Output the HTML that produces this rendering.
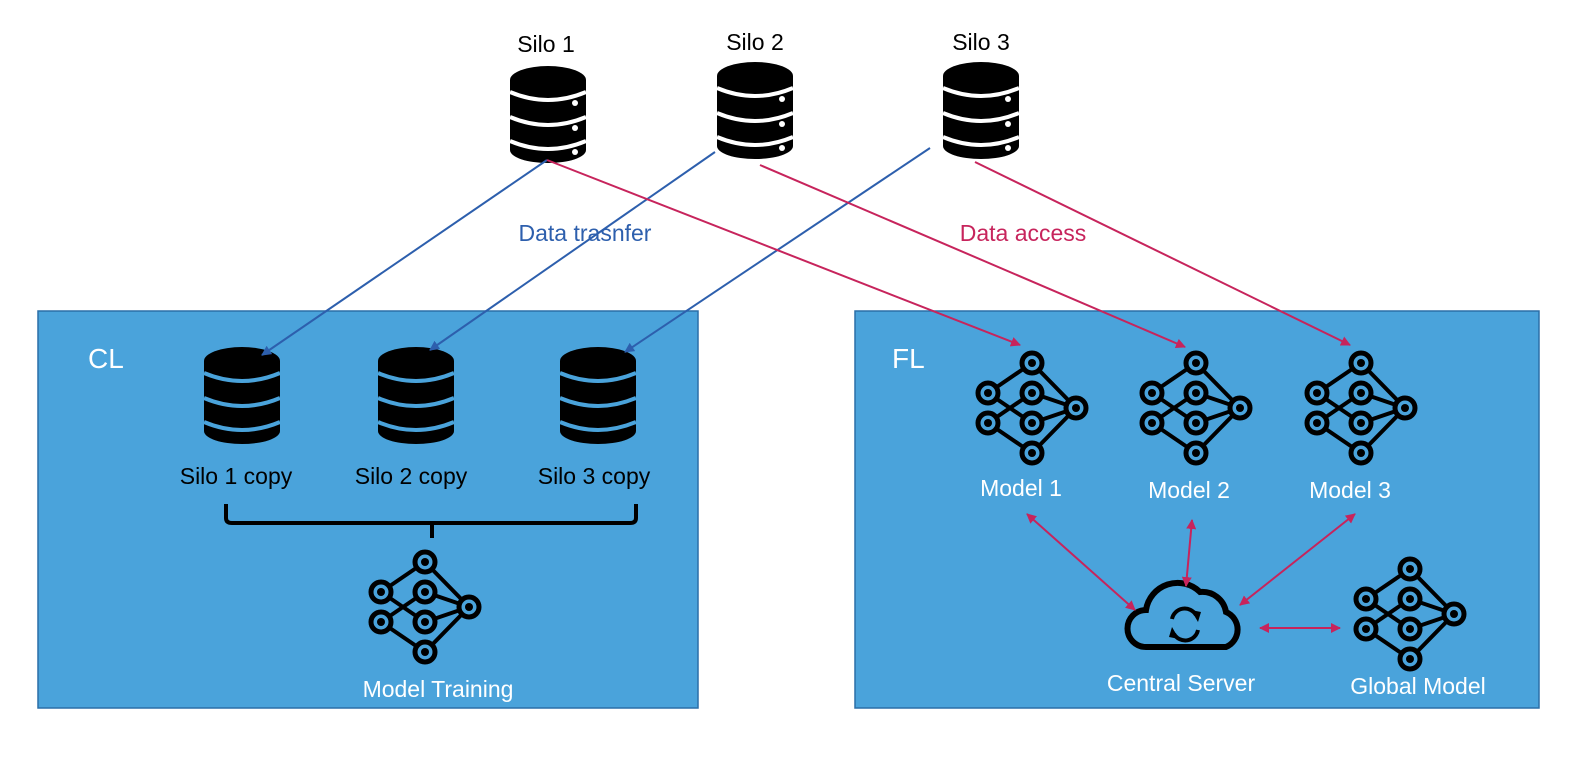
<!DOCTYPE html>
<html><head><meta charset="utf-8"><style>
html,body{margin:0;padding:0;background:#fff;}
svg{display:block;font-family:"Liberation Sans",sans-serif;}
</style></head><body>
<svg width="1588" height="764" viewBox="0 0 1588 764" xmlns="http://www.w3.org/2000/svg">
<defs>
<symbol id="db" viewBox="0 0 76 97" overflow="visible">
<path d="M0 14 A38 14 0 0 1 76 14 L76 84 A38 13 0 0 1 0 84 Z" fill="#000"/>
</symbol>
<g id="nn" fill="none" stroke="#000">
<g stroke-width="4">
<line x1="0" y1="-45" x2="-44" y2="-15"/><line x1="0" y1="-45" x2="44" y2="0"/>
<line x1="-44" y1="-15" x2="0" y2="15"/><line x1="-44" y1="15" x2="0" y2="-15"/>
<line x1="0" y1="-15" x2="44" y2="0"/><line x1="0" y1="15" x2="44" y2="0"/>
<line x1="-44" y1="15" x2="0" y2="45"/><line x1="0" y1="45" x2="44" y2="0"/>
</g>
<g stroke-width="5" fill="#4aa3db">
<circle cx="0" cy="-45" r="10"/><circle cx="-44" cy="-15" r="10"/><circle cx="-44" cy="15" r="10"/>
<circle cx="0" cy="-15" r="10"/><circle cx="0" cy="15" r="10"/><circle cx="0" cy="45" r="10"/><circle cx="44" cy="0" r="10"/>
</g>
<g fill="#000" stroke="none">
<circle cx="0" cy="-45" r="4"/><circle cx="-44" cy="-15" r="4"/><circle cx="-44" cy="15" r="4"/>
<circle cx="0" cy="-15" r="4"/><circle cx="0" cy="15" r="4"/><circle cx="0" cy="45" r="4"/><circle cx="44" cy="0" r="4"/>
</g>
</g>
<marker id="ab" viewBox="0 0 10 10" refX="9" refY="5" markerWidth="5" markerHeight="5" orient="auto-start-reverse"><path d="M0 0 L10 5 L0 10 Z" fill="#2d5fad"/></marker>
<marker id="ar" viewBox="0 0 10 10" refX="9" refY="5" markerWidth="5" markerHeight="5" orient="auto-start-reverse"><path d="M0 0 L10 5 L0 10 Z" fill="#c7245c"/></marker>
</defs>

<rect x="38" y="311" width="660" height="397" fill="#4aa3db" stroke="#2a6fa8" stroke-width="1.5"/>
<rect x="855" y="311" width="684" height="397" fill="#4aa3db" stroke="#2a6fa8" stroke-width="1.5"/>

<use href="#db" x="510" y="66" width="76" height="97"/>
<use href="#db" x="717" y="62" width="76" height="97"/>
<use href="#db" x="943" y="62" width="76" height="97"/>
<g stroke="#fff" stroke-width="4" fill="none">
<path d="M510 92 Q548 108 586 92"/><path d="M510 117 Q548 133 586 117"/><path d="M510 141 Q548 157 586 141"/>
<path d="M717 88 Q755 104 793 88"/><path d="M717 113 Q755 129 793 113"/><path d="M717 137 Q755 153 793 137"/>
<path d="M943 88 Q981 104 1019 88"/><path d="M943 113 Q981 129 1019 113"/><path d="M943 137 Q981 153 1019 137"/>
</g>
<g fill="#fff">
<circle cx="575" cy="103" r="3"/><circle cx="575" cy="128" r="3"/><circle cx="575" cy="152" r="3"/>
<circle cx="782" cy="99" r="3"/><circle cx="782" cy="124" r="3"/><circle cx="782" cy="148" r="3"/>
<circle cx="1008" cy="99" r="3"/><circle cx="1008" cy="124" r="3"/><circle cx="1008" cy="148" r="3"/>
</g>
<g font-size="23" fill="#000" text-anchor="middle">
<text x="546" y="52">Silo 1</text><text x="755" y="50">Silo 2</text><text x="981" y="50">Silo 3</text>
</g>

<use href="#db" x="204" y="346" width="76" height="99"/>
<use href="#db" x="378" y="346" width="76" height="99"/>
<use href="#db" x="560" y="346" width="76" height="99"/>
<g stroke="#4aa3db" stroke-width="4" fill="none">
<path d="M204 373 Q242 389 280 373"/><path d="M204 398 Q242 414 280 398"/><path d="M204 422 Q242 438 280 422"/>
<path d="M378 373 Q416 389 454 373"/><path d="M378 398 Q416 414 454 398"/><path d="M378 422 Q416 438 454 422"/>
<path d="M560 373 Q598 389 636 373"/><path d="M560 398 Q598 414 636 398"/><path d="M560 422 Q598 438 636 422"/>
</g>
<g font-size="23" fill="#000" text-anchor="middle">
<text x="236" y="484">Silo 1 copy</text><text x="411" y="484">Silo 2 copy</text><text x="594" y="484">Silo 3 copy</text>
</g>
<path d="M226 504 L226 518 Q226 523 232 523 L630 523 Q636 523 636 518 L636 504 M432 523 L432 538" fill="none" stroke="#000" stroke-width="4"/>
<use href="#nn" transform="translate(425,607)"/>
<text x="438" y="697" font-size="23" fill="#fff" text-anchor="middle">Model Training</text>
<text x="88" y="368" font-size="28" fill="#fff">CL</text>

<text x="892" y="368" font-size="28" fill="#fff">FL</text>
<use href="#nn" transform="translate(1032,408)"/>
<use href="#nn" transform="translate(1196,408)"/>
<use href="#nn" transform="translate(1361,408)"/>
<use href="#nn" transform="translate(1410,614)"/>
<g font-size="23" fill="#fff" text-anchor="middle">
<text x="1021" y="496">Model 1</text><text x="1189" y="498">Model 2</text><text x="1350" y="498">Model 3</text>
<text x="1181" y="691">Central Server</text><text x="1418" y="694">Global Model</text>
</g>
<path d="M1146 647 L1226 647 A19 19 0 0 0 1226 612 A24 24 0 0 0 1200 592 A32 32 0 0 0 1146 610 A18 18 0 0 0 1146 647 Z" fill="none" stroke="#000" stroke-width="6"/>
<g fill="none" stroke="#000" stroke-width="4">
<path d="M1172 619 A13 13 0 0 1 1196 615"/><path d="M1198 630 A13 13 0 0 1 1174 634"/>
</g>
<path d="M1191 610 L1201 612 L1198 622 Z" fill="#000"/><path d="M1179 639 L1169 637 L1172 627 Z" fill="#000"/>

<g stroke="#2d5fad" stroke-width="2" fill="none" marker-end="url(#ab)">
<line x1="547" y1="160" x2="262" y2="355"/>
<line x1="715" y1="152" x2="430" y2="350"/>
<line x1="930" y1="148" x2="625" y2="352"/>
</g>
<g stroke="#c7245c" stroke-width="2" fill="none" marker-end="url(#ar)">
<line x1="547" y1="160" x2="1020" y2="345"/>
<line x1="760" y1="165" x2="1185" y2="347"/>
<line x1="975" y1="162" x2="1350" y2="345"/>
</g>
<g stroke="#c7245c" stroke-width="2" fill="none" marker-end="url(#ar)" marker-start="url(#ar)">
<line x1="1027" y1="514" x2="1135" y2="610"/>
<line x1="1192" y1="520" x2="1186" y2="586"/>
<line x1="1355" y1="514" x2="1240" y2="605"/>
<line x1="1260" y1="628" x2="1340" y2="628"/>
</g>
<text x="585" y="241" font-size="23" fill="#2d5fad" text-anchor="middle">Data trasnfer</text>
<text x="1023" y="241" font-size="23" fill="#c7245c" text-anchor="middle">Data access</text>
</svg>
</body></html>
